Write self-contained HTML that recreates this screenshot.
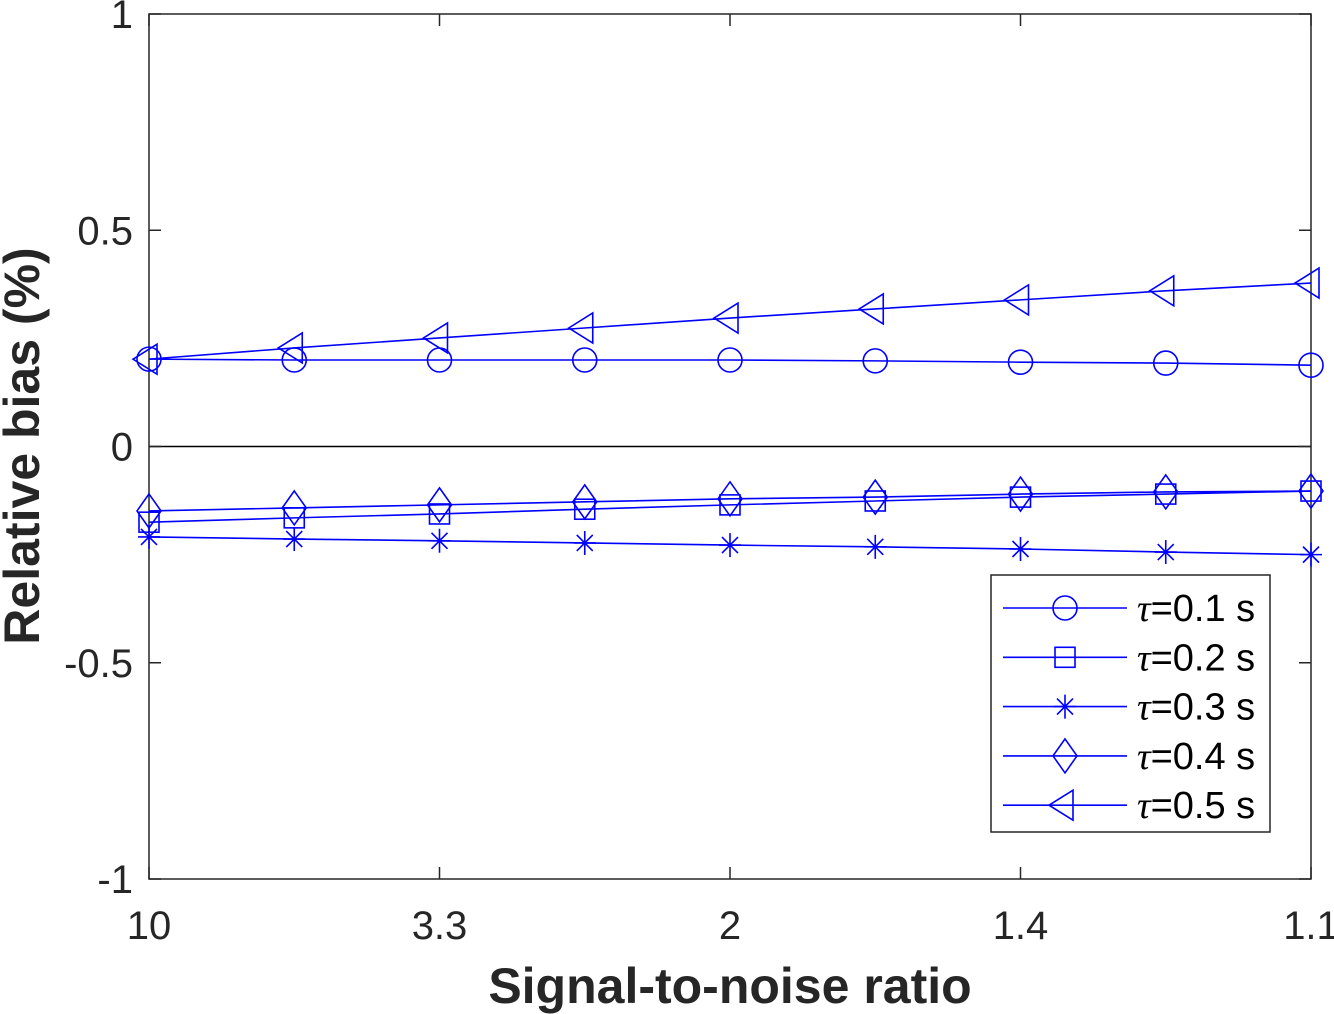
<!DOCTYPE html>
<html><head><meta charset="utf-8"><style>
body{margin:0;background:#fff}
svg{display:block;font-family:"Liberation Sans",sans-serif}
</style></head><body>
<svg id="chart" width="1334" height="1014" xmlns="http://www.w3.org/2000/svg">
<rect width="1334" height="1014" fill="#fff"/>
<g id="plot"></g>
</svg>
<script>
const categories = ["10","","3.3","","2","","1.4","","1.1"];
const yTicks = [-1,-0.5,0,0.5,1];
const yTickLabels = ["-1","-0.5","0","0.5","1"];
const seriesNames = ["τ=0.1 s","τ=0.2 s","τ=0.3 s","τ=0.4 s","τ=0.5 s"];
const tau01 = [0.202,0.200,0.200,0.200,0.200,0.198,0.195,0.193,0.188];
const tau02 = [-0.175,-0.165,-0.156,-0.145,-0.135,-0.126,-0.117,-0.110,-0.103];
const tau03 = [-0.209,-0.214,-0.218,-0.223,-0.228,-0.232,-0.237,-0.244,-0.250];
const tau04 = [-0.149,-0.142,-0.135,-0.128,-0.121,-0.117,-0.110,-0.105,-0.103];
const tau05 = [0.202,0.228,0.251,0.274,0.297,0.318,0.339,0.360,0.378];
const markers = ["circle","square","star","diamond","triangle"];

const NS="http://www.w3.org/2000/svg";
const L=149,R=1311,T=14,B=879;
const xs=i=>L+i*(R-L)/(categories.length-1);
const ys=v=>B-(v+1)/2*(B-T);
const g=document.getElementById('plot');
function el(tag,attrs,parent){const e=document.createElementNS(NS,tag);for(const k in attrs)e.setAttribute(k,attrs[k]);(parent||g).appendChild(e);return e;}
const C="#0000ff";
function marker(type,x,y,parent){
  const a={fill:"none",stroke:C,"stroke-width":1.6};
  let m;
  if(type==="circle"){m=el('circle',Object.assign({cx:x,cy:y,r:12},a),parent);}
  else if(type==="square"){m=el('rect',Object.assign({x:x-10,y:y-10,width:20,height:20},a),parent);}
  else if(type==="star"){m=el('path',Object.assign({d:`M${x-11} ${y}H${x+11}M${x} ${y-12}V${y+12}M${x-8} ${y-8}L${x+8} ${y+8}M${x-8} ${y+8}L${x+8} ${y-8}`},a),parent);}
  else if(type==="diamond"){m=el('path',Object.assign({d:`M${x} ${y-17}L${x+12} ${y}L${x} ${y+17}L${x-12} ${y}Z`},a),parent);}
  else {m=el('path',Object.assign({d:`M${x-16} ${y}L${x+8} ${y-15}L${x+8} ${y+15}Z`},a),parent);}
  return m;
}
const box=el('rect',{x:L,y:T,width:R-L,height:B-T,fill:"none",stroke:"#262626","stroke-width":1.5});


const z=el('line',{x1:L,x2:R,y1:ys(0),y2:ys(0),stroke:"#000","stroke-width":1.5});


yTicks.forEach((v,i)=>{
  const y=ys(v);
  el('line',{x1:L,x2:L+12,y1:y,y2:y,stroke:"#262626","stroke-width":1.5});
  el('line',{x1:R,x2:R-12,y1:y,y2:y,stroke:"#262626","stroke-width":1.5});
  const t=el('text',{x:L-16,y:y+14,"text-anchor":"end","font-size":40,fill:"#262626"});
  t.textContent=yTickLabels[i];
  
  
});
categories.forEach((c,i)=>{
  if(!c)return;
  const x=xs(i);
  el('line',{x1:x,x2:x,y1:B,y2:B-12,stroke:"#262626","stroke-width":1.5});
  el('line',{x1:x,x2:x,y1:T,y2:T+12,stroke:"#262626","stroke-width":1.5});
  const t=el('text',{x:x,y:939,"text-anchor":"middle","font-size":40,fill:"#262626"});
  t.textContent=c;
  
  
});
const xt=el('text',{x:730,y:1003,"text-anchor":"middle","font-size":50,"font-weight":"bold",fill:"#262626"});
xt.textContent="Signal-to-noise ratio";


const yt=el('text',{x:0,y:0,"text-anchor":"middle","font-size":50,"font-weight":"bold",fill:"#262626",transform:"translate(39,446) rotate(-90)"});
yt.textContent="Relative bias (%)";


const series=[tau01,tau02,tau03,tau04,tau05];
series.forEach((vals,s)=>{
  const sg=el('g',{});
  
  
  const pts=vals.map((v,i)=>xs(i)+","+ys(v)).join(" ");
  el('polyline',{points:pts,fill:"none",stroke:C,"stroke-width":1.6},sg);
  vals.forEach((v,i)=>{
    const m=marker(markers[s],xs(i),ys(v),sg);
    
    
  });
});
const lg=el('g',{});


el('rect',{x:991,y:575,width:279,height:257,fill:"#fff",stroke:"#262626","stroke-width":1.5},lg);
seriesNames.forEach((n,s)=>{
  const y=608+s*49.3;
  const eg=el('g',{},lg);
  
  
  el('line',{x1:1003,x2:1127,y1:y,y2:y,stroke:C,"stroke-width":1.6},eg);
  marker(markers[s],1065,y,eg);
  const t=el('text',{x:1137,y:y+13,"font-size":38,fill:"#000"},eg);
  const ts=el('tspan',{"font-family":"Liberation Serif","font-style":"italic"},t);
  ts.textContent=n.charAt(0);
  const t2=el('tspan',{},t);
  t2.textContent=n.slice(1);
});
</script>
</body></html>
